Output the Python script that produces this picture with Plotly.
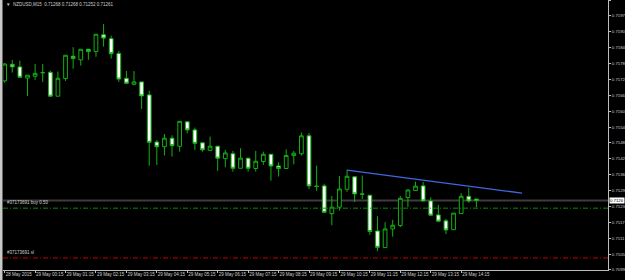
import numpy as np
import plotly.graph_objects as go

# ---------------- data ----------------
opens = [0.71722, 0.71786, 0.71776, 0.71733, 0.71740, 0.71753, 0.71755, 0.71663, 0.71731, 0.71817,
         0.71803, 0.71844, 0.71835, 0.71900, 0.71885, 0.71828, 0.71732, 0.71709, 0.71718, 0.71668,
         0.71486, 0.71468, 0.71501, 0.71470, 0.71564, 0.71533, 0.71483, 0.71454, 0.71470, 0.71422,
         0.71441, 0.71385, 0.71424, 0.71384, 0.71411, 0.71439, 0.71394, 0.71384, 0.71434, 0.71441,
         0.71510, 0.71316, 0.71317, 0.71210, 0.71235, 0.71304, 0.71352, 0.71286, 0.71281, 0.71143,
         0.71079, 0.71151, 0.71164, 0.71272, 0.71299, 0.71317, 0.71259, 0.71205, 0.71182, 0.71148,
         0.71210, 0.71277, 0.71266]
highs = [0.71791, 0.71803, 0.71800, 0.71744, 0.71787, 0.71787, 0.71761, 0.71758, 0.71821, 0.71852,
         0.71844, 0.71844, 0.71902, 0.71941, 0.71896, 0.71837, 0.71760, 0.71760, 0.71718, 0.71684,
         0.71494, 0.71517, 0.71512, 0.71566, 0.71564, 0.71542, 0.71483, 0.71507, 0.71470, 0.71456,
         0.71452, 0.71462, 0.71424, 0.71452, 0.71449, 0.71439, 0.71408, 0.71458, 0.71452, 0.71523,
         0.71521, 0.71395, 0.71325, 0.71278, 0.71355, 0.71379, 0.71352, 0.71357, 0.71281, 0.71200,
         0.71177, 0.71186, 0.71278, 0.71304, 0.71333, 0.71332, 0.71273, 0.71244, 0.71190, 0.71212,
         0.71289, 0.71310, 0.71268]
lows = [0.71715, 0.71754, 0.71736, 0.71664, 0.71726, 0.71718, 0.71663, 0.71663, 0.71722, 0.71769,
        0.71781, 0.71803, 0.71815, 0.71854, 0.71808, 0.71718, 0.71713, 0.71705, 0.71614, 0.71395,
        0.71398, 0.71434, 0.71430, 0.71449, 0.71520, 0.71456, 0.71449, 0.71454, 0.71375, 0.71389,
        0.71372, 0.71385, 0.71372, 0.71372, 0.71398, 0.71337, 0.71353, 0.71384, 0.71400, 0.71434,
        0.71305, 0.71298, 0.71215, 0.71165, 0.71222, 0.71294, 0.71255, 0.71266, 0.71128, 0.71065,
        0.71079, 0.71121, 0.71158, 0.71235, 0.71299, 0.71259, 0.71204, 0.71181, 0.71131, 0.71148,
        0.71210, 0.71252, 0.71234]
closes = [0.71787, 0.71776, 0.71736, 0.71744, 0.71751, 0.71754, 0.71663, 0.71732, 0.71821, 0.71808,
          0.71844, 0.71835, 0.71902, 0.71887, 0.71827, 0.71729, 0.71713, 0.71718, 0.71664, 0.71485,
          0.71468, 0.71501, 0.71472, 0.71566, 0.71533, 0.71481, 0.71456, 0.71470, 0.71424, 0.71444,
          0.71385, 0.71424, 0.71385, 0.71412, 0.71439, 0.71394, 0.71384, 0.71434, 0.71443, 0.71510,
          0.71317, 0.71315, 0.71215, 0.71235, 0.71305, 0.71354, 0.71286, 0.71285, 0.71141, 0.71080,
          0.71151, 0.71165, 0.71269, 0.71301, 0.71316, 0.71259, 0.71204, 0.71181, 0.71147, 0.71212,
          0.71277, 0.71259, 0.71261]
bars = list(range(len(opens)))

time_tick_bars = [0, 4, 8, 12, 16, 20, 24, 28, 32, 36, 40, 44, 48, 52, 56, 60]
time_tick_labels = ["28 May 2015", "29 May 00:15", "29 May 01:15", "29 May 02:15", "29 May 03:15",
                    "29 May 04:15", "29 May 05:15", "29 May 06:15", "29 May 07:15", "29 May 08:15",
                    "29 May 09:15", "29 May 10:15", "29 May 11:15", "29 May 12:15", "29 May 13:15",
                    "29 May 14:15"]

price_tick_labels = ["0.7203", "0.7197", "0.7190", "0.7184", "0.7178", "0.7172", "0.7166", "0.7160",
                     "0.7154", "0.7148", "0.7142", "0.7136", "0.7129", "0.7123", "0.7117", "0.7111",
                     "0.7105", "0.7099"]
price_top = 0.72034
price_bottom = 0.70993

title_text = "NZDUSD,M15  0.71268 0.71268 0.71252 0.71261"
bid_price = closes[-1]
bid_label = "0.7126"
order_price = 0.71231
order_label = "#37173691 buy 0.50"
sl_price = 0.71039
sl_label = "#37173691 sl"
trend_x = [45, 68]
trend_y = [0.71378, 0.71289]

# ---------------- styling ----------------
GREEN = "#12b012"
TXT = "#cfcfcf"
FONT = "Liberation Sans"

fig = go.Figure()

fig.add_trace(go.Candlestick(
    x=bars, open=opens, high=highs, low=lows, close=closes,
    increasing=dict(line=dict(color=GREEN, width=1), fillcolor="black"),
    decreasing=dict(line=dict(color=GREEN, width=1), fillcolor="white"),
    whiskerwidth=0, hoverinfo="skip", showlegend=False))

fig.add_trace(go.Scatter(x=trend_x, y=trend_y, mode="lines",
                         line=dict(color="#3f68e6", width=1.3),
                         hoverinfo="skip", showlegend=False))

# horizontal price lines
fig.add_shape(type="line", xref="paper", x0=0, x1=1, yref="y", y0=bid_price, y1=bid_price,
              line=dict(color="#3c3c3c", width=2), layer="below")
fig.add_shape(type="line", xref="paper", x0=0, x1=1, yref="y", y0=order_price, y1=order_price,
              line=dict(color="#0e8a0e", width=1, dash="5px,2px,1px,2px"))
fig.add_shape(type="line", xref="paper", x0=0, x1=1, yref="y", y0=sl_price, y1=sl_price,
              line=dict(color="#c00000", width=1, dash="5px,2px,1px,2px"))

# left window edge strip
fig.add_shape(type="rect", xref="paper", yref="paper", x0=-3 / 605, x1=-0.5 / 605, y0=-0.04, y1=1,
              fillcolor="#c8c8c8", line=dict(width=0), layer="above")

annos = [
    dict(xref="paper", yref="paper", x=0.002, y=1.0, xanchor="left", yanchor="top",
         text="\u25bc  " + title_text, showarrow=False, font=dict(size=4.5, color=TXT, family=FONT)),
    dict(xref="paper", yref="y", x=0.003, y=order_price, xanchor="left", yanchor="bottom",
         yshift=1, text=order_label, showarrow=False, font=dict(size=4.5, color=TXT, family=FONT)),
    dict(xref="paper", yref="y", x=0.003, y=sl_price, xanchor="left", yanchor="bottom",
         yshift=1, text=sl_label, showarrow=False, font=dict(size=4.5, color=TXT, family=FONT)),
    dict(xref="paper", yref="y", x=1.0, y=bid_price, xanchor="left", yanchor="middle", xshift=1,
         text=bid_label, showarrow=False, bgcolor="white", borderpad=0,
         font=dict(size=4.3, color="black", family=FONT)),
]

fig.update_layout(
    width=625, height=280,
    margin=dict(l=3, r=17, t=0, b=10, autoexpand=False),
    paper_bgcolor="black", plot_bgcolor="black",
    annotations=annos,
    xaxis=dict(range=[-0.22, 79.3], rangeslider=dict(visible=False), showgrid=False,
               zeroline=False, showline=True, linecolor="#bdbdbd", linewidth=1,
               tickmode="array", tickvals=time_tick_bars, ticktext=time_tick_labels,
               ticks="outside", ticklen=2, tickcolor="#bdbdbd", ticklabelposition="outside right",
               tickangle=0, automargin=False,
               tickfont=dict(size=4.5, color=TXT, family=FONT), fixedrange=True),
    yaxis=dict(range=[price_bottom - 0.000005, price_top], side="right", showgrid=False,
               zeroline=False, showline=True, linecolor="#bdbdbd", linewidth=1,
               tickmode="array", tickvals=list(np.linspace(price_top, price_bottom, len(price_tick_labels))),
               ticktext=price_tick_labels, ticks="outside", ticklen=2, tickcolor="#bdbdbd",
               automargin=False,
               tickfont=dict(size=4.3, color=TXT, family=FONT), fixedrange=True),
)

fig.write_html("out.html")
